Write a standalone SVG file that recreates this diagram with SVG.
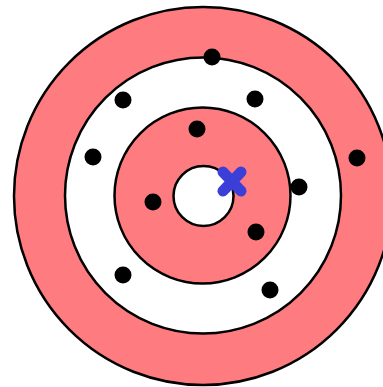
<svg xmlns="http://www.w3.org/2000/svg" width="383" height="387" viewBox="0 0 383 387">
<style>
.ring{stroke:#000;stroke-width:2.5}
.pink{fill:#fe7b80}
.white{fill:#fff}
.dot{fill:#000}
.x{stroke:#3b3fd8;stroke-width:11;stroke-linecap:round}
</style>
<rect width="383" height="387" fill="#fff"/>
<g id="target">
<circle class="ring pink" cx="203" cy="196" r="189"/>
<circle class="ring white" cx="203" cy="195.5" r="138"/>
<circle class="ring pink" cx="202.5" cy="195.5" r="88"/>
<circle class="ring white" cx="203.5" cy="196" r="30"/>
</g>
<g id="dots">
<circle class="dot" cx="212" cy="57" r="8.5"/>
<circle class="dot" cx="123" cy="100" r="8.5"/>
<circle class="dot" cx="255" cy="99" r="8.5"/>
<circle class="dot" cx="197" cy="129" r="8.5"/>
<circle class="dot" cx="93" cy="157" r="8.5"/>
<circle class="dot" cx="357" cy="158" r="8.5"/>
<circle class="dot" cx="299" cy="187" r="8.5"/>
<circle class="dot" cx="153" cy="202" r="8.5"/>
<circle class="dot" cx="256" cy="232" r="8.5"/>
<circle class="dot" cx="123" cy="275" r="8.5"/>
<circle class="dot" cx="270" cy="290" r="8.5"/>
</g>
<g id="cross">
<line class="x" x1="223" y1="172" x2="241" y2="191"/>
<line class="x" x1="241" y1="172" x2="223" y2="191"/>
</g>
</svg>
